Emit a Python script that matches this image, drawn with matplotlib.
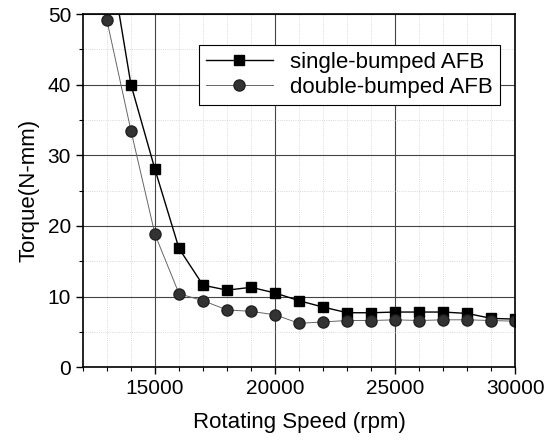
import matplotlib.pyplot as plt
from matplotlib.ticker import MultipleLocator

plt.rcParams['font.family'] = ['Liberation Sans', 'DejaVu Sans']

speed = [13000, 14000, 15000, 16000, 17000, 18000, 19000, 20000, 21000, 22000,
         23000, 24000, 25000, 26000, 27000, 28000, 29000, 30000]
single_bumped = [60.5, 40.0, 28.0, 16.8, 11.6, 10.9, 11.3, 10.5, 9.4, 8.5,
                 7.7, 7.7, 7.8, 7.8, 7.8, 7.6, 6.9, 6.8]
double_bumped = [49.1, 33.5, 18.8, 10.4, 9.4, 8.1, 7.9, 7.4, 6.2, 6.4,
                 6.6, 6.6, 6.7, 6.6, 6.7, 6.7, 6.6, 6.5]

fig = plt.figure(figsize=(5.6, 4.45), dpi=100)
ax = fig.add_axes([0.148, 0.175, 0.7725, 0.7935])

ax.plot(speed, single_bumped, color='black', lw=1.0, marker='s', ms=7,
        label='single-bumped AFB')
ax.plot(speed, double_bumped, color='#666666', lw=0.7, marker='o', ms=8,
        mfc='#333333', mec='#222222', label='double-bumped AFB')

ax.set_xlim(12000, 30000)
ax.set_ylim(0, 50)
ax.xaxis.set_major_locator(MultipleLocator(5000))
ax.xaxis.set_minor_locator(MultipleLocator(1000))
ax.yaxis.set_major_locator(MultipleLocator(10))
ax.yaxis.set_minor_locator(MultipleLocator(5))

ax.grid(True, which='major', color='#444444', lw=0.8)
ax.grid(True, which='minor', color='#cccccc', lw=0.6, ls=':')
ax.set_axisbelow(True)

ax.tick_params(which='major', direction='out', length=5, width=1, labelsize=15)
ax.tick_params(which='minor', direction='out', length=3, width=0.8)
for s in ax.spines.values():
    s.set_linewidth(1.2)

ax.set_xlabel('Rotating Speed (rpm)', fontsize=16, labelpad=10)
ax.set_ylabel('Torque(N-mm)', fontsize=16, labelpad=6)

leg = ax.legend(loc='upper right', bbox_to_anchor=(0.964, 0.912), fontsize=16,
                fancybox=False, edgecolor='black', framealpha=1,
                borderaxespad=0, handlelength=3.0, handletextpad=0.8,
                borderpad=0.3, labelspacing=0.2)
leg.get_frame().set_linewidth(0.8)

fig.savefig('out.png', dpi=100)
